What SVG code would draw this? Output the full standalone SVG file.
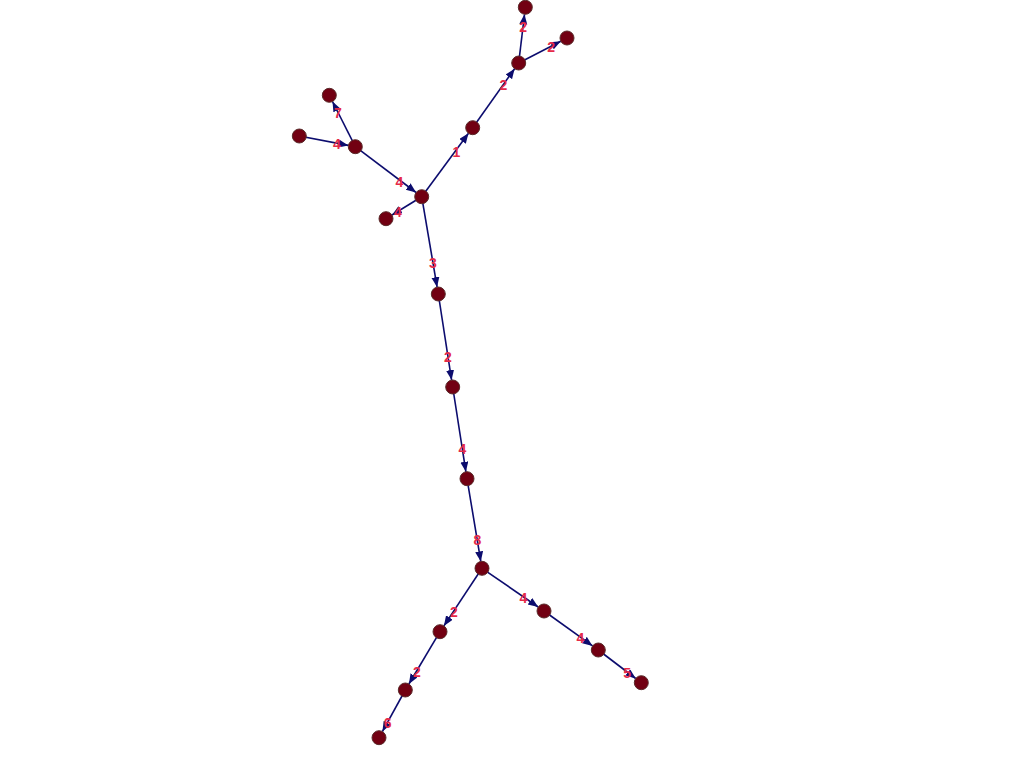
<svg xmlns="http://www.w3.org/2000/svg" width="1024" height="768" viewBox="0 0 1024 768">
<style>
.e{stroke:#0c0c6e;stroke-width:1.6;fill:none;marker-end:url(#ah)}
.n{fill:#720012;stroke:#5a2a2a;stroke-width:1}
.l{font-family:"Liberation Sans",Arial,sans-serif;font-size:14px;font-weight:bold;fill:#e52a48;text-anchor:middle;dominant-baseline:central}
</style>
<defs>
<marker id="ah" markerUnits="userSpaceOnUse" markerWidth="11" markerHeight="9" refX="10" refY="4" orient="auto">
<path d="M0,0 L10,4 L0,8 z" fill="#0c0c6e"/>
</marker>
</defs>
<rect width="1024" height="768" fill="#ffffff"/>
<g id="edges">
<line class="e" x1="421.7" y1="196.7" x2="468.5" y2="133.3"/>
<line class="e" x1="472.7" y1="127.7" x2="514.6" y2="68.7"/>
<line class="e" x1="518.7" y1="63" x2="524.5" y2="14.3"/>
<line class="e" x1="518.7" y1="63" x2="560.8" y2="41.2"/>
<line class="e" x1="355.3" y1="146.7" x2="332.5" y2="101.5"/>
<line class="e" x1="299.3" y1="136" x2="348.4" y2="145.4"/>
<line class="e" x1="355.3" y1="146.7" x2="416.1" y2="192.5"/>
<line class="e" x1="421.7" y1="196.7" x2="392" y2="215"/>
<line class="e" x1="421.7" y1="196.7" x2="437.1" y2="287.1"/>
<line class="e" x1="438.3" y1="294" x2="451.6" y2="380.1"/>
<line class="e" x1="452.7" y1="387" x2="465.9" y2="471.8"/>
<line class="e" x1="467" y1="478.7" x2="480.8" y2="561.4"/>
<line class="e" x1="482" y1="568.3" x2="538.2" y2="607"/>
<line class="e" x1="544" y1="611" x2="592.6" y2="645.9"/>
<line class="e" x1="598.3" y1="650" x2="635.7" y2="678.5"/>
<line class="e" x1="482" y1="568.3" x2="443.9" y2="625.9"/>
<line class="e" x1="440" y1="631.7" x2="408.9" y2="684"/>
<line class="e" x1="405.3" y1="690" x2="382.4" y2="731.6"/>
<text class="l" x="456.4" y="151.5">1</text>
<text class="l" x="503.5" y="85.4">2</text>
<text class="l" x="523.1" y="26.7">2</text>
<text class="l" x="551.1" y="47.3">2</text>
<text class="l" x="337.9" y="113.3">7</text>
<text class="l" x="336.8" y="144.2">4</text>
<text class="l" x="399.3" y="182">4</text>
<text class="l" x="397.8" y="212.4">4</text>
<text class="l" x="432.8" y="263">3</text>
<text class="l" x="447.9" y="357.3">2</text>
<text class="l" x="462.3" y="449.4">4</text>
<text class="l" x="477.3" y="539.5">8</text>
<text class="l" x="523.5" y="597.9">4</text>
<text class="l" x="580.4" y="638.1">4</text>
<text class="l" x="627.1" y="672.9">5</text>
<text class="l" x="453.9" y="611.8">2</text>
<text class="l" x="416.8" y="671.8">2</text>
<text class="l" x="387.7" y="723">6</text>
</g>
<g id="nA"><circle class="n" cx="525.3" cy="7.3" r="7"/></g>
<g id="nB"><circle class="n" cx="567" cy="38" r="7"/></g>
<g id="nC"><circle class="n" cx="518.7" cy="63" r="7"/></g>
<g id="nD"><circle class="n" cx="472.7" cy="127.7" r="7"/></g>
<g id="nE"><circle class="n" cx="329.3" cy="95.3" r="7"/></g>
<g id="nF"><circle class="n" cx="299.3" cy="136" r="7"/></g>
<g id="nG"><circle class="n" cx="355.3" cy="146.7" r="7"/></g>
<g id="nH"><circle class="n" cx="421.7" cy="196.7" r="7"/></g>
<g id="nI"><circle class="n" cx="386" cy="218.7" r="7"/></g>
<g id="nJ"><circle class="n" cx="438.3" cy="294" r="7"/></g>
<g id="nK"><circle class="n" cx="452.7" cy="387" r="7"/></g>
<g id="nL"><circle class="n" cx="467" cy="478.7" r="7"/></g>
<g id="nM"><circle class="n" cx="482" cy="568.3" r="7"/></g>
<g id="nN"><circle class="n" cx="544" cy="611" r="7"/></g>
<g id="nO"><circle class="n" cx="598.3" cy="650" r="7"/></g>
<g id="nP"><circle class="n" cx="641.3" cy="682.7" r="7"/></g>
<g id="nQ"><circle class="n" cx="440" cy="631.7" r="7"/></g>
<g id="nR"><circle class="n" cx="405.3" cy="690" r="7"/></g>
<g id="nS"><circle class="n" cx="379" cy="737.7" r="7"/></g>
</svg>
